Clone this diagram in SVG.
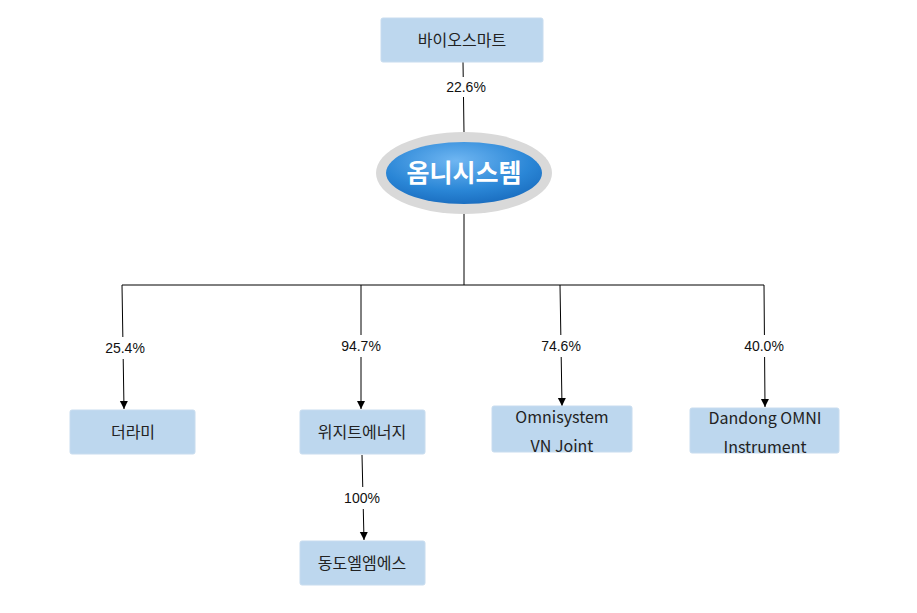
<svg xmlns="http://www.w3.org/2000/svg" width="917" height="613" viewBox="0 0 917 613">
<style>
.box{fill:#bdd7ee;stroke:#c8dcef;stroke-width:1}
.t{font-family:"Noto Sans CJK KR","Noto Sans",sans-serif;font-size:16px;fill:#222;text-anchor:middle}
.p{font-family:"Liberation Sans",sans-serif;font-size:14px;fill:#111;text-anchor:middle}
.c{stroke:#000;stroke-width:1;fill:none}
</style>
<defs>
<marker id="a" markerWidth="8" markerHeight="8" refX="4" refY="7" orient="auto" markerUnits="userSpaceOnUse"><path d="M0,0 L8,0 L4,8 Z" fill="#000" transform="rotate(-90 4 4)"/></marker>
<marker id="ar" markerWidth="8" markerHeight="10" refX="8" refY="4" orient="auto" markerUnits="userSpaceOnUse"><path d="M0,0 L8,4 L0,8 Z" fill="#000"/></marker>
<radialGradient id="g" cx="0.45" cy="0.3" r="0.8"><stop offset="0" stop-color="#6fb6f2"/><stop offset="0.6" stop-color="#2a86d6"/><stop offset="1" stop-color="#1565b8"/></radialGradient>
</defs>
<rect width="917" height="613" fill="#fff"/>
<g id="connectors">
<line class="c" x1="463" y1="62" x2="464" y2="133"/>
<rect x="440" y="77" width="48" height="20" fill="#fff"/>
<text class="p" x="466" y="92">22.6%</text>
<polyline class="c" points="464,213 464,285"/>
<line class="c" x1="122" y1="285" x2="764" y2="285"/>
<line class="c" x1="122" y1="285" x2="124" y2="409" marker-end="url(#ar)"/>
<line class="c" x1="361" y1="285" x2="361" y2="409" marker-end="url(#ar)"/>
<line class="c" x1="560" y1="285" x2="562" y2="406" marker-end="url(#ar)"/>
<line class="c" x1="764" y1="285" x2="765" y2="407" marker-end="url(#ar)"/>
<line class="c" x1="362" y1="455" x2="364" y2="540" marker-end="url(#ar)"/>
<rect x="98" y="337" width="52" height="22" fill="#fff"/><text class="p" x="125" y="353">25.4%</text>
<rect x="335" y="335" width="52" height="22" fill="#fff"/><text class="p" x="361" y="351">94.7%</text>
<rect x="534" y="335" width="52" height="22" fill="#fff"/><text class="p" x="561" y="351">74.6%</text>
<rect x="737" y="335" width="52" height="22" fill="#fff"/><text class="p" x="764" y="351">40.0%</text>
<rect x="340" y="487" width="44" height="22" fill="#fff"/><text class="p" x="362" y="503">100%</text>
</g>
<g id="n-bio"><rect class="box" x="381" y="18" width="162" height="44" rx="2"/><text class="t" x="462" y="46">바이오스마트</text></g>
<g id="n-omni">
<ellipse cx="464" cy="173" rx="88" ry="41" fill="#d9d9d9"/>
<ellipse cx="464" cy="173" rx="78" ry="31" fill="url(#g)"/>
<text x="464" y="182" font-family="Noto Sans CJK KR,sans-serif" font-size="25" font-weight="bold" fill="#fff" text-anchor="middle">옴니시스템</text>
</g>
<g id="n-darami"><rect class="box" x="70" y="410" width="125" height="44" rx="2"/><text class="t" x="133" y="438">더라미</text></g>
<g id="n-wizit"><rect class="box" x="300" y="410" width="125" height="44" rx="2"/><text class="t" x="362" y="438">위지트에너지</text></g>
<g id="n-vn"><rect class="box" x="492" y="406" width="140" height="46" rx="2"/><text class="t" x="562" y="423">Omnisystem</text><text class="t" x="562" y="452">VN Joint</text></g>
<g id="n-dandong"><rect class="box" x="690" y="408" width="149" height="45" rx="2"/><text class="t" x="765" y="424">Dandong OMNI</text><text class="t" x="765" y="453">Instrument</text></g>
<g id="n-dongdo"><rect class="box" x="300" y="541" width="125" height="44" rx="2"/><text class="t" x="362" y="569">동도엘엠에스</text></g>
</svg>
